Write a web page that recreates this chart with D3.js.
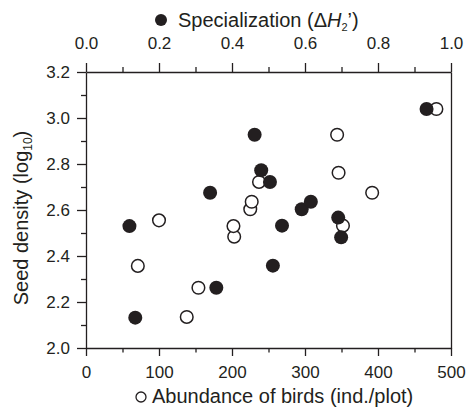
<!DOCTYPE html>
<html>
<head>
<meta charset="utf-8">
<script src="https://cdn.jsdelivr.net/npm/d3@7"></script>
<style>
  body { margin: 0; background: #fff; }
  svg text { font-family: "Liberation Sans", Arial, sans-serif; fill: #231f20; }
  .axis path, .axis line { stroke: #231f20; stroke-width: 1.3; }
  .axis text { font-size: 17px; }
</style>
</head>
<body>
<div id="chart"></div>
<script>
// Specialization (filled circles, top axis)
var specialization = [0.119, 0.135, 0.340, 0.357, 0.462, 0.480, 0.504, 0.512, 0.537, 0.591, 0.616, 0.691, 0.699, 0.933];
var specSeed = [2.530, 2.132, 2.675, 2.262, 2.927, 2.773, 2.722, 2.358, 2.532, 2.603, 2.636, 2.567, 2.481, 3.039];

// Abundance of birds (open circles, bottom axis)
var abundance = [71, 100, 138, 154, 203, 202, 225, 227, 237, 344, 346, 352, 392, 480];
var abundSeed = [2.357, 2.555, 2.135, 2.262, 2.484, 2.530, 2.603, 2.636, 2.722, 2.927, 2.762, 2.532, 2.675, 3.039];

// Tick values
var bottomTicks = [0, 100, 200, 300, 400, 500];
var bottomMinor = [50, 150, 250, 350, 450];
var topTicks = [0, 0.2, 0.4, 0.6, 0.8, 1.0];
var topMinor = [0.1, 0.3, 0.5, 0.7, 0.9];
var leftTicks = [2.0, 2.2, 2.4, 2.6, 2.8, 3.0, 3.2];
var leftMinor = [2.1, 2.3, 2.5, 2.7, 2.9, 3.1];

var svgWidth = 466;
var svgHeight = 414;
var margin = { top: 72, right: 15, bottom: 66, left: 86 };
var chartWidth = svgWidth - margin.left - margin.right;
var chartHeight = svgHeight - margin.top - margin.bottom;

var svg = d3.select("#chart")
  .append("svg")
  .attr("width", svgWidth)
  .attr("height", svgHeight);

var chartGroup = svg.append("g")
  .attr("transform", `translate(${margin.left}, ${margin.top})`);

var xAbund = d3.scaleLinear().domain([0, 500]).range([0, chartWidth]);
var xSpec = d3.scaleLinear().domain([0, 1]).range([0, chartWidth]);
var yScale = d3.scaleLinear().domain([2.0, 3.2]).range([chartHeight, 0]);

// bottom axis
chartGroup.append("g")
  .attr("class", "axis")
  .attr("transform", `translate(0, ${chartHeight})`)
  .call(d3.axisBottom(xAbund).tickValues(bottomTicks).tickSize(8).tickSizeOuter(0).tickPadding(10).tickFormat(d3.format("d")));
chartGroup.append("g")
  .attr("class", "axis")
  .attr("transform", `translate(0, ${chartHeight})`)
  .call(d3.axisBottom(xAbund).tickValues(bottomMinor).tickSize(4.5).tickFormat(""))
  .select(".domain").remove();

// top axis
chartGroup.append("g")
  .attr("class", "axis")
  .call(d3.axisTop(xSpec).tickValues(topTicks).tickSize(9).tickSizeOuter(0).tickPadding(14).tickFormat(d3.format(".1f")));
chartGroup.append("g")
  .attr("class", "axis")
  .call(d3.axisTop(xSpec).tickValues(topMinor).tickSize(5).tickFormat(""))
  .select(".domain").remove();

// left axis
chartGroup.append("g")
  .attr("class", "axis")
  .call(d3.axisLeft(yScale).tickValues(leftTicks).tickSize(9).tickSizeOuter(0).tickPadding(7).tickFormat(d3.format(".1f")));
chartGroup.append("g")
  .attr("class", "axis")
  .call(d3.axisLeft(yScale).tickValues(leftMinor).tickSize(5).tickFormat(""))
  .select(".domain").remove();

// right axis (line only)
chartGroup.append("g")
  .attr("class", "axis")
  .attr("transform", `translate(${chartWidth}, 0)`)
  .call(d3.axisRight(yScale).tickValues([]).tickSizeOuter(0));

// open circles first, filled on top
chartGroup.selectAll(".open")
  .data(abundance)
  .enter()
  .append("circle")
  .attr("class", "open")
  .attr("cx", d => xAbund(d))
  .attr("cy", (d, i) => yScale(abundSeed[i]))
  .attr("r", 6.3)
  .attr("fill", "#fff")
  .attr("stroke", "#231f20")
  .attr("stroke-width", 1.5);

chartGroup.selectAll(".filled")
  .data(specialization)
  .enter()
  .append("circle")
  .attr("class", "filled")
  .attr("cx", d => xSpec(d))
  .attr("cy", (d, i) => yScale(specSeed[i]))
  .attr("r", 7)
  .attr("fill", "#231f20");

// top title
svg.append("circle")
  .attr("cx", 161)
  .attr("cy", 20)
  .attr("r", 6)
  .attr("fill", "#231f20");
var topTitle = svg.append("text")
  .attr("x", 178)
  .attr("y", 27)
  .attr("font-size", "20px");
topTitle.append("tspan").text("Specialization (\u0394");
topTitle.append("tspan").attr("font-style", "italic").text("H");
topTitle.append("tspan").attr("font-size", "11px").attr("dy", 4).text("2");
topTitle.append("tspan").attr("dy", -4).text("\u2019)");

// bottom title
svg.append("circle")
  .attr("cx", 141)
  .attr("cy", 397)
  .attr("r", 5)
  .attr("fill", "#fff")
  .attr("stroke", "#231f20")
  .attr("stroke-width", 1.3);
svg.append("text")
  .attr("x", 152)
  .attr("y", 403)
  .attr("font-size", "20px")
  .text("Abundance of birds (ind./plot)");

// y title
var yTitle = svg.append("text")
  .attr("transform", "translate(28, 218) rotate(-90)")
  .attr("text-anchor", "middle")
  .attr("font-size", "20px");
yTitle.append("tspan").text("Seed density (log");
yTitle.append("tspan").attr("font-size", "12px").attr("dy", 4).text("10");
yTitle.append("tspan").attr("dy", -4).text(")");
</script>
</body>
</html>
